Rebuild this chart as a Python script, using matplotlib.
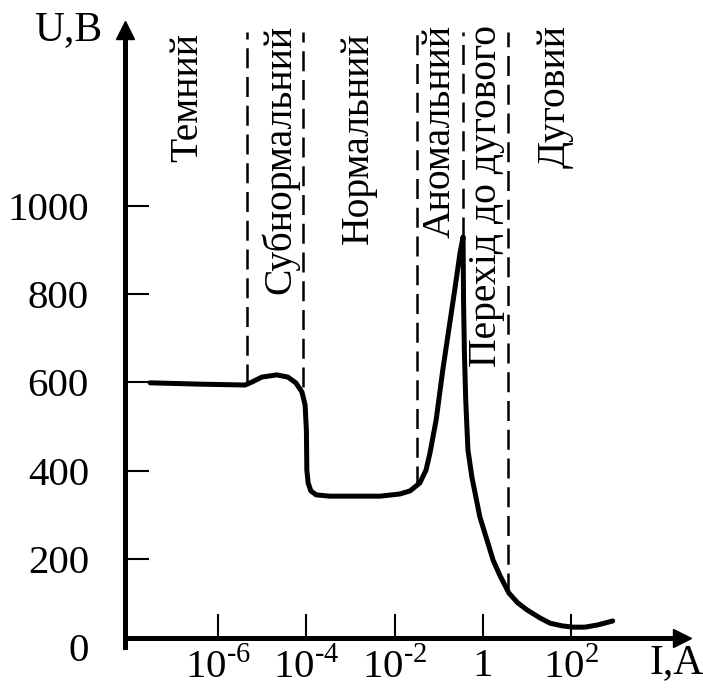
import numpy as np
import matplotlib.pyplot as plt

plt.rcParams['font.family'] = ['Liberation Serif', 'DejaVu Serif']
plt.rcParams['mathtext.fontset'] = 'custom'
plt.rcParams['mathtext.rm'] = 'Liberation Serif'

# current-voltage characteristic of a gas discharge (log10 of current, A / voltage, V)
log_I = [-7.54, -6.41, -5.39, -5.23, -5.01, -4.67, -4.42, -4.24, -4.10, -4.03,
         -4.00, -3.99, -3.96, -3.90, -3.78, -3.47, -2.33, -1.88, -1.65, -1.43,
         -1.29, -1.20, -1.06, -0.91, -0.63, -0.52, -0.45,
         -0.44, -0.42, -0.39, -0.34, -0.25, -0.16, -0.07, 0.09, 0.23, 0.39,
         0.59, 0.79, 1.00, 1.29, 1.52, 1.79, 2.04, 2.31, 2.60, 2.94]
U = [599, 596, 594, 601, 612, 617, 612, 599, 578, 549,
     492, 401, 372, 354, 345, 342, 342, 347, 354, 372,
     401, 440, 515, 628, 816, 893, 930,
     787, 667, 560, 447, 385, 340, 295, 243, 197, 161,
     122, 100, 84, 66, 54, 48, 45, 45, 50, 59]
I = 10.0 ** np.array(log_I)

# region boundaries (dashed lines) and where they meet the curve
boundary_log_I = [-5.35, -4.08, -1.49, -0.45, 0.57]
boundary_U_low = [596, 590, 365, 930, 122]
boundary_U_top = 1395

regions = ['Темний', 'Субнормальний', 'Нормальний', 'Аномальний',
           'Перехід до дугового', 'Дуговий']
region_log_I = [-6.68, -4.60, -2.83, -0.97, 0.09, 1.63]
region_top = [1393, 1411, 1395, 1411, 1411, 1411]

x_ticks = [1e-6, 1e-4, 1e-2, 1, 1e2]
x_labels = [r'$10^{\text{-6}}$', r'$10^{\text{-4}}$', r'$10^{\text{-2}}$',
            '1', r'$10^{2}$']
y_ticks = [0, 200, 400, 600, 800, 1000]

fig = plt.figure(figsize=(7.03, 7.00), dpi=100)
ax = fig.add_axes([125 / 703, 53 / 700, (682 - 125) / 703, (670 - 53) / 700])

ax.plot(I, U, color='black', linewidth=3.6, solid_capstyle='round',
        solid_joinstyle='round')

ax.vlines(10.0 ** np.array(boundary_log_I), boundary_U_low, boundary_U_top,
          colors='black', linewidth=1.8, linestyles=(0, (8, 3.5)))

for name, lx, top in zip(regions, region_log_I, region_top):
    ax.text(10.0 ** lx, top, name, rotation=90, ha='center', va='top',
            fontsize=28.5)

ax.set_xscale('log')
ax.set_xlim(10 ** -8.11, 10 ** 4.51)
ax.set_ylim(0, 1399)

for side in ['top', 'right']:
    ax.spines[side].set_visible(False)
ax.spines['bottom'].set_position(('data', 20))
ax.spines['bottom'].set_linewidth(3.6)
ax.spines['left'].set_linewidth(3.6)

ax.set_xticks(x_ticks)
ax.set_xticklabels(x_labels)
ax.xaxis.set_minor_locator(plt.NullLocator())
ax.set_yticks(y_ticks)
ax.tick_params(axis='both', direction='in', length=17, width=1.5,
               labelsize=29.5)
ax.tick_params(axis='y', pad=26)
ax.tick_params(axis='x', pad=7)
ax.yaxis.get_major_ticks()[0].tick1line.set_visible(False)

# arrow heads on the axes
ax.plot(1, 20, marker='>', color='black', markersize=13,
        transform=ax.get_yaxis_transform(), clip_on=False)
ax.plot(0, 1, marker='^', color='black', markersize=13,
        transform=ax.transAxes, clip_on=False)

fig.text(68 / 703, 1 - 30 / 700, 'U,B', fontsize=30, ha='center', va='center')
fig.text(677 / 703, 1 - 663 / 700, 'I,A', fontsize=30, ha='center', va='center')

fig.savefig('out.png', dpi=100)
